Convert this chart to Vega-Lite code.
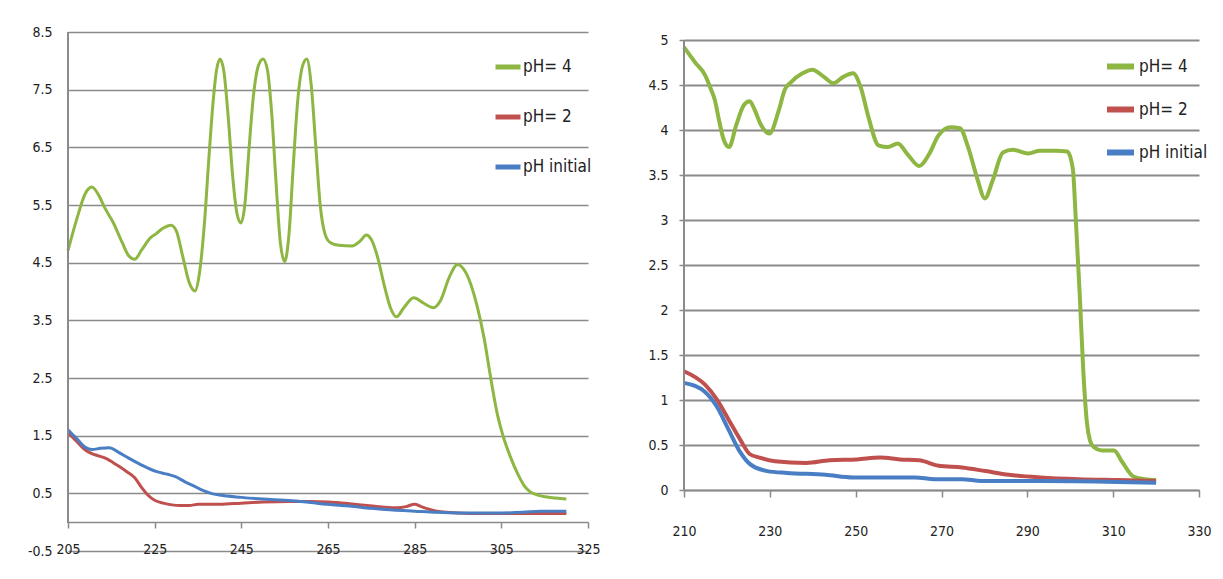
{
  "$schema": "https://vega.github.io/schema/vega-lite/v6.json",
  "background": "white",
  "padding": {"left": 0, "top": 25, "right": 0, "bottom": 0},
  "spacing": 43,
  "config": {
    "font": "DejaVu Sans Condensed, sans-serif",
    "view": {"stroke": null},
    "axis": {
      "labelFont": "DejaVu Sans Condensed, sans-serif",
      "labelFontSize": 14,
      "labelColor": "#222222",
      "labelFlush": false,
      "gridColor": "#8a8a8a",
      "gridWidth": 1.5,
      "domainColor": "#8a8a8a",
      "domainWidth": 1.5,
      "tickColor": "#8a8a8a",
      "tickWidth": 1.5,
      "title": null
    },
    "legend": {
      "labelFont": "DejaVu Sans Condensed, sans-serif",
      "labelFontSize": 17,
      "labelColor": "#222222"
    }
  },
  "datasets": {
    "left": [
      {"series": "pH= 4", "x": 205, "y": 4.71}, {"series": "pH= 4", "x": 207, "y": 5.25}, {"series": "pH= 4", "x": 209, "y": 5.7}, {"series": "pH= 4", "x": 210.5, "y": 5.81}, {"series": "pH= 4", "x": 212, "y": 5.68}, {"series": "pH= 4", "x": 213.5, "y": 5.45}, {"series": "pH= 4", "x": 215.4, "y": 5.2}, {"series": "pH= 4", "x": 217.5, "y": 4.85}, {"series": "pH= 4", "x": 219, "y": 4.62}, {"series": "pH= 4", "x": 220.4, "y": 4.56}, {"series": "pH= 4", "x": 222, "y": 4.72}, {"series": "pH= 4", "x": 224, "y": 4.93}, {"series": "pH= 4", "x": 225.3, "y": 5.0}, {"series": "pH= 4", "x": 227, "y": 5.1}, {"series": "pH= 4", "x": 228.8, "y": 5.15}, {"series": "pH= 4", "x": 230, "y": 5.05}, {"series": "pH= 4", "x": 231.5, "y": 4.6}, {"series": "pH= 4", "x": 233, "y": 4.15}, {"series": "pH= 4", "x": 234.3, "y": 4.01}, {"series": "pH= 4", "x": 235.3, "y": 4.3}, {"series": "pH= 4", "x": 236.5, "y": 5.2}, {"series": "pH= 4", "x": 237.5, "y": 6.3}, {"series": "pH= 4", "x": 238.5, "y": 7.3}, {"series": "pH= 4", "x": 239.3, "y": 7.85}, {"series": "pH= 4", "x": 240.1, "y": 8.03}, {"series": "pH= 4", "x": 241, "y": 7.8}, {"series": "pH= 4", "x": 242, "y": 7.0}, {"series": "pH= 4", "x": 243, "y": 6.0}, {"series": "pH= 4", "x": 244, "y": 5.35}, {"series": "pH= 4", "x": 244.9, "y": 5.19}, {"series": "pH= 4", "x": 245.8, "y": 5.5}, {"series": "pH= 4", "x": 246.8, "y": 6.5}, {"series": "pH= 4", "x": 247.8, "y": 7.4}, {"series": "pH= 4", "x": 249, "y": 7.93}, {"series": "pH= 4", "x": 250, "y": 8.03}, {"series": "pH= 4", "x": 251, "y": 7.85}, {"series": "pH= 4", "x": 252, "y": 7.1}, {"series": "pH= 4", "x": 253, "y": 5.9}, {"series": "pH= 4", "x": 254, "y": 4.85}, {"series": "pH= 4", "x": 255, "y": 4.52}, {"series": "pH= 4", "x": 256, "y": 5.0}, {"series": "pH= 4", "x": 257, "y": 6.2}, {"series": "pH= 4", "x": 258, "y": 7.3}, {"series": "pH= 4", "x": 259.2, "y": 7.93}, {"series": "pH= 4", "x": 260.1, "y": 8.03}, {"series": "pH= 4", "x": 261.1, "y": 7.6}, {"series": "pH= 4", "x": 262.2, "y": 6.5}, {"series": "pH= 4", "x": 263.2, "y": 5.5}, {"series": "pH= 4", "x": 264.3, "y": 5.0}, {"series": "pH= 4", "x": 265.5, "y": 4.85}, {"series": "pH= 4", "x": 267.5, "y": 4.8}, {"series": "pH= 4", "x": 270.5, "y": 4.79}, {"series": "pH= 4", "x": 272.5, "y": 4.88}, {"series": "pH= 4", "x": 273.8, "y": 4.98}, {"series": "pH= 4", "x": 275, "y": 4.9}, {"series": "pH= 4", "x": 276.5, "y": 4.58}, {"series": "pH= 4", "x": 278, "y": 4.1}, {"series": "pH= 4", "x": 279.5, "y": 3.7}, {"series": "pH= 4", "x": 280.8, "y": 3.56}, {"series": "pH= 4", "x": 282.5, "y": 3.72}, {"series": "pH= 4", "x": 284.8, "y": 3.89}, {"series": "pH= 4", "x": 287, "y": 3.8}, {"series": "pH= 4", "x": 289.3, "y": 3.72}, {"series": "pH= 4", "x": 291, "y": 3.85}, {"series": "pH= 4", "x": 293, "y": 4.25}, {"series": "pH= 4", "x": 294.9, "y": 4.47}, {"series": "pH= 4", "x": 297, "y": 4.3}, {"series": "pH= 4", "x": 299.4, "y": 3.75}, {"series": "pH= 4", "x": 301, "y": 3.2}, {"series": "pH= 4", "x": 302.6, "y": 2.48}, {"series": "pH= 4", "x": 304, "y": 1.9}, {"series": "pH= 4", "x": 305.3, "y": 1.52}, {"series": "pH= 4", "x": 307, "y": 1.15}, {"series": "pH= 4", "x": 308.9, "y": 0.82}, {"series": "pH= 4", "x": 310.3, "y": 0.63}, {"series": "pH= 4", "x": 311.6, "y": 0.53}, {"series": "pH= 4", "x": 313.4, "y": 0.47}, {"series": "pH= 4", "x": 315.2, "y": 0.44}, {"series": "pH= 4", "x": 317.5, "y": 0.42}, {"series": "pH= 4", "x": 320, "y": 0.4},
      {"series": "pH= 2", "x": 205, "y": 1.55}, {"series": "pH= 2", "x": 207, "y": 1.4}, {"series": "pH= 2", "x": 209, "y": 1.25}, {"series": "pH= 2", "x": 210.5, "y": 1.19}, {"series": "pH= 2", "x": 212, "y": 1.15}, {"series": "pH= 2", "x": 213.6, "y": 1.11}, {"series": "pH= 2", "x": 216.3, "y": 0.99}, {"series": "pH= 2", "x": 218.5, "y": 0.88}, {"series": "pH= 2", "x": 220.4, "y": 0.77}, {"series": "pH= 2", "x": 222, "y": 0.6}, {"series": "pH= 2", "x": 223.3, "y": 0.48}, {"series": "pH= 2", "x": 225, "y": 0.38}, {"series": "pH= 2", "x": 227, "y": 0.33}, {"series": "pH= 2", "x": 229, "y": 0.3}, {"series": "pH= 2", "x": 231, "y": 0.29}, {"series": "pH= 2", "x": 233, "y": 0.29}, {"series": "pH= 2", "x": 235, "y": 0.31}, {"series": "pH= 2", "x": 240, "y": 0.31}, {"series": "pH= 2", "x": 245, "y": 0.33}, {"series": "pH= 2", "x": 250, "y": 0.35}, {"series": "pH= 2", "x": 256, "y": 0.36}, {"series": "pH= 2", "x": 261, "y": 0.36}, {"series": "pH= 2", "x": 265, "y": 0.35}, {"series": "pH= 2", "x": 270, "y": 0.32}, {"series": "pH= 2", "x": 274, "y": 0.29}, {"series": "pH= 2", "x": 278, "y": 0.26}, {"series": "pH= 2", "x": 281, "y": 0.25}, {"series": "pH= 2", "x": 283, "y": 0.27}, {"series": "pH= 2", "x": 285, "y": 0.31}, {"series": "pH= 2", "x": 286.5, "y": 0.27}, {"series": "pH= 2", "x": 288.5, "y": 0.22}, {"series": "pH= 2", "x": 291, "y": 0.18}, {"series": "pH= 2", "x": 295, "y": 0.16}, {"series": "pH= 2", "x": 300, "y": 0.15}, {"series": "pH= 2", "x": 310, "y": 0.15}, {"series": "pH= 2", "x": 320, "y": 0.15},
      {"series": "pH initial", "x": 205, "y": 1.6}, {"series": "pH initial", "x": 207, "y": 1.45}, {"series": "pH initial", "x": 209, "y": 1.3}, {"series": "pH initial", "x": 210.5, "y": 1.26}, {"series": "pH initial", "x": 212.5, "y": 1.28}, {"series": "pH initial", "x": 214.5, "y": 1.29}, {"series": "pH initial", "x": 216.5, "y": 1.22}, {"series": "pH initial", "x": 219, "y": 1.11}, {"series": "pH initial", "x": 222, "y": 0.99}, {"series": "pH initial", "x": 225.3, "y": 0.88}, {"series": "pH initial", "x": 228, "y": 0.83}, {"series": "pH initial", "x": 229.8, "y": 0.79}, {"series": "pH initial", "x": 232, "y": 0.7}, {"series": "pH initial", "x": 234, "y": 0.63}, {"series": "pH initial", "x": 236.1, "y": 0.55}, {"series": "pH initial", "x": 238, "y": 0.5}, {"series": "pH initial", "x": 240, "y": 0.47}, {"series": "pH initial", "x": 245, "y": 0.43}, {"series": "pH initial", "x": 250, "y": 0.4}, {"series": "pH initial", "x": 255, "y": 0.38}, {"series": "pH initial", "x": 260, "y": 0.35}, {"series": "pH initial", "x": 265, "y": 0.31}, {"series": "pH initial", "x": 270, "y": 0.28}, {"series": "pH initial", "x": 275, "y": 0.24}, {"series": "pH initial", "x": 280, "y": 0.21}, {"series": "pH initial", "x": 285, "y": 0.19}, {"series": "pH initial", "x": 290, "y": 0.17}, {"series": "pH initial", "x": 295, "y": 0.16}, {"series": "pH initial", "x": 305, "y": 0.16}, {"series": "pH initial", "x": 310, "y": 0.17}, {"series": "pH initial", "x": 314, "y": 0.19}, {"series": "pH initial", "x": 320, "y": 0.19}
    ],
    "right": [
      {"series": "pH= 4", "x": 210, "y": 4.92}, {"series": "pH= 4", "x": 212.6, "y": 4.75}, {"series": "pH= 4", "x": 214.9, "y": 4.61}, {"series": "pH= 4", "x": 216.3, "y": 4.45}, {"series": "pH= 4", "x": 217.2, "y": 4.33}, {"series": "pH= 4", "x": 218.2, "y": 4.1}, {"series": "pH= 4", "x": 219.2, "y": 3.9}, {"series": "pH= 4", "x": 220.5, "y": 3.81}, {"series": "pH= 4", "x": 222.2, "y": 4.06}, {"series": "pH= 4", "x": 224, "y": 4.28}, {"series": "pH= 4", "x": 225.3, "y": 4.32}, {"series": "pH= 4", "x": 226.5, "y": 4.22}, {"series": "pH= 4", "x": 227.8, "y": 4.07}, {"series": "pH= 4", "x": 229.9, "y": 3.96}, {"series": "pH= 4", "x": 232.1, "y": 4.22}, {"series": "pH= 4", "x": 233.5, "y": 4.45}, {"series": "pH= 4", "x": 234.9, "y": 4.53}, {"series": "pH= 4", "x": 237.6, "y": 4.63}, {"series": "pH= 4", "x": 239.9, "y": 4.67}, {"series": "pH= 4", "x": 242.6, "y": 4.59}, {"series": "pH= 4", "x": 244.8, "y": 4.52}, {"series": "pH= 4", "x": 247.1, "y": 4.59}, {"series": "pH= 4", "x": 249.4, "y": 4.63}, {"series": "pH= 4", "x": 251.2, "y": 4.47}, {"series": "pH= 4", "x": 253, "y": 4.14}, {"series": "pH= 4", "x": 255.3, "y": 3.83}, {"series": "pH= 4", "x": 257.5, "y": 3.81}, {"series": "pH= 4", "x": 259.8, "y": 3.85}, {"series": "pH= 4", "x": 262.1, "y": 3.73}, {"series": "pH= 4", "x": 264.8, "y": 3.6}, {"series": "pH= 4", "x": 267.1, "y": 3.73}, {"series": "pH= 4", "x": 269.3, "y": 3.94}, {"series": "pH= 4", "x": 272.1, "y": 4.03}, {"series": "pH= 4", "x": 274.3, "y": 4.02}, {"series": "pH= 4", "x": 276.2, "y": 3.81}, {"series": "pH= 4", "x": 278.4, "y": 3.45}, {"series": "pH= 4", "x": 280.1, "y": 3.24}, {"series": "pH= 4", "x": 282, "y": 3.45}, {"series": "pH= 4", "x": 284.3, "y": 3.75}, {"series": "pH= 4", "x": 286.6, "y": 3.78}, {"series": "pH= 4", "x": 290.2, "y": 3.74}, {"series": "pH= 4", "x": 292.9, "y": 3.77}, {"series": "pH= 4", "x": 296.6, "y": 3.77}, {"series": "pH= 4", "x": 299.3, "y": 3.76}, {"series": "pH= 4", "x": 300.6, "y": 3.57}, {"series": "pH= 4", "x": 301.3, "y": 3.0}, {"series": "pH= 4", "x": 302.2, "y": 2.18}, {"series": "pH= 4", "x": 303.0, "y": 1.36}, {"series": "pH= 4", "x": 303.9, "y": 0.74}, {"series": "pH= 4", "x": 304.6, "y": 0.55}, {"series": "pH= 4", "x": 305.4, "y": 0.48}, {"series": "pH= 4", "x": 307.4, "y": 0.44}, {"series": "pH= 4", "x": 310.2, "y": 0.44}, {"series": "pH= 4", "x": 312, "y": 0.32}, {"series": "pH= 4", "x": 314.7, "y": 0.15}, {"series": "pH= 4", "x": 317.4, "y": 0.12}, {"series": "pH= 4", "x": 320, "y": 0.11},
      {"series": "pH= 2", "x": 210, "y": 1.32}, {"series": "pH= 2", "x": 214.9, "y": 1.17}, {"series": "pH= 2", "x": 217.6, "y": 1.01}, {"series": "pH= 2", "x": 220.3, "y": 0.79}, {"series": "pH= 2", "x": 223.1, "y": 0.56}, {"series": "pH= 2", "x": 225.3, "y": 0.4}, {"series": "pH= 2", "x": 227.6, "y": 0.36}, {"series": "pH= 2", "x": 231.2, "y": 0.32}, {"series": "pH= 2", "x": 238.5, "y": 0.3}, {"series": "pH= 2", "x": 243.9, "y": 0.33}, {"series": "pH= 2", "x": 250.3, "y": 0.34}, {"series": "pH= 2", "x": 255.7, "y": 0.36}, {"series": "pH= 2", "x": 260.3, "y": 0.34}, {"series": "pH= 2", "x": 264.8, "y": 0.33}, {"series": "pH= 2", "x": 269.3, "y": 0.27}, {"series": "pH= 2", "x": 274.8, "y": 0.25}, {"series": "pH= 2", "x": 280.3, "y": 0.21}, {"series": "pH= 2", "x": 285.7, "y": 0.17}, {"series": "pH= 2", "x": 293, "y": 0.14}, {"series": "pH= 2", "x": 302, "y": 0.12}, {"series": "pH= 2", "x": 311.1, "y": 0.11}, {"series": "pH= 2", "x": 320, "y": 0.1},
      {"series": "pH initial", "x": 210, "y": 1.19}, {"series": "pH initial", "x": 214.9, "y": 1.09}, {"series": "pH initial", "x": 217.6, "y": 0.93}, {"series": "pH initial", "x": 220.3, "y": 0.68}, {"series": "pH initial", "x": 223.1, "y": 0.42}, {"series": "pH initial", "x": 225.3, "y": 0.29}, {"series": "pH initial", "x": 229.4, "y": 0.21}, {"series": "pH initial", "x": 234, "y": 0.19}, {"series": "pH initial", "x": 243, "y": 0.17}, {"series": "pH initial", "x": 249.4, "y": 0.14}, {"series": "pH initial", "x": 263.9, "y": 0.14}, {"series": "pH initial", "x": 268.4, "y": 0.12}, {"series": "pH initial", "x": 274.8, "y": 0.12}, {"series": "pH initial", "x": 279.3, "y": 0.1}, {"series": "pH initial", "x": 293, "y": 0.1}, {"series": "pH initial", "x": 311.1, "y": 0.09}, {"series": "pH initial", "x": 320, "y": 0.08}
    ]
  },
  "resolve": {"legend": {"color": "independent"}, "scale": {"color": "independent"}},
  "hconcat": [
    {
      "width": 520,
      "height": 519,
      "data": {"name": "left"},
      "layer": [
        {
          "mark": {"type": "line", "interpolate": "monotone", "strokeWidth": 3},
          "encoding": {
            "x": {"field": "x", "type": "quantitative",
              "scale": {"domain": [205, 325], "nice": false, "zero": false},
              "axis": {"values": [205, 225, 245, 265, 285, 305, 325], "grid": false, "offset": -29, "tickSize": 6, "labelPadding": 14, "domain": true}},
            "y": {"field": "y", "type": "quantitative",
              "scale": {"domain": [-0.5, 8.5], "nice": false, "zero": false},
              "axis": {"values": [-0.5, 0.5, 1.5, 2.5, 3.5, 4.5, 5.5, 6.5, 7.5, 8.5], "ticks": false, "domain": false, "labelPadding": 16, "minExtent": 68, "maxExtent": 68, "labelExpr": "replace(format(datum.value, '.1f'), '−', '-')"}},
            "color": {"field": "series", "type": "nominal",
              "scale": {"domain": ["pH= 4", "pH= 2", "pH initial"], "range": ["#8db642", "#c0504d", "#4a7ec4"]},
              "legend": {"orient": "none", "legendX": 425, "legendY": 20, "title": null, "symbolType": "stroke", "symbolSize": 625, "symbolStrokeWidth": 5, "labelOffset": 0, "rowPadding": 25, "padding": 0}}
          }
        },
        {
          "mark": {"type": "rule", "color": "#8a8a8a", "strokeWidth": 1.5},
          "encoding": {
            "x": {"datum": 205, "type": "quantitative"},
            "y": {"datum": 0, "type": "quantitative"},
            "y2": {"datum": 8.5}
          }
        }
      ]
    },
    {
      "width": 515,
      "height": 458,
      "data": {"name": "right"},
      "layer": [
        {
          "mark": {"type": "line", "interpolate": "monotone", "strokeWidth": 4},
          "encoding": {
            "x": {"field": "x", "type": "quantitative",
              "scale": {"domain": [210, 330], "nice": false, "zero": false},
              "axis": {"values": [210, 230, 250, 270, 290, 310, 330], "grid": false, "tickSize": 7, "labelPadding": 27, "domain": true}},
            "y": {"field": "y", "type": "quantitative",
              "scale": {"domain": [0, 5.0889], "nice": false},
              "axis": {"values": [0, 0.5, 1, 1.5, 2, 2.5, 3, 3.5, 4, 4.5, 5], "format": "~g", "tickSize": 5, "labelPadding": 11, "domain": false, "gridWidth": 2, "minExtent": 40, "maxExtent": 40}},
            "color": {"field": "series", "type": "nominal",
              "scale": {"domain": ["pH= 4", "pH= 2", "pH initial"], "range": ["#8db642", "#c0504d", "#4a7ec4"]},
              "legend": {"orient": "none", "legendX": 420, "legendY": 18, "title": null, "symbolType": "stroke", "symbolSize": 729, "symbolStrokeWidth": 6, "labelOffset": 2, "rowPadding": 14, "padding": 0}}
          }
        },
        {
          "mark": {"type": "rule", "color": "#8a8a8a", "strokeWidth": 1.5},
          "encoding": {
            "x": {"datum": 210, "type": "quantitative"},
            "y": {"datum": 0, "type": "quantitative"},
            "y2": {"datum": 5}
          }
        }
      ]
    }
  ]
}
